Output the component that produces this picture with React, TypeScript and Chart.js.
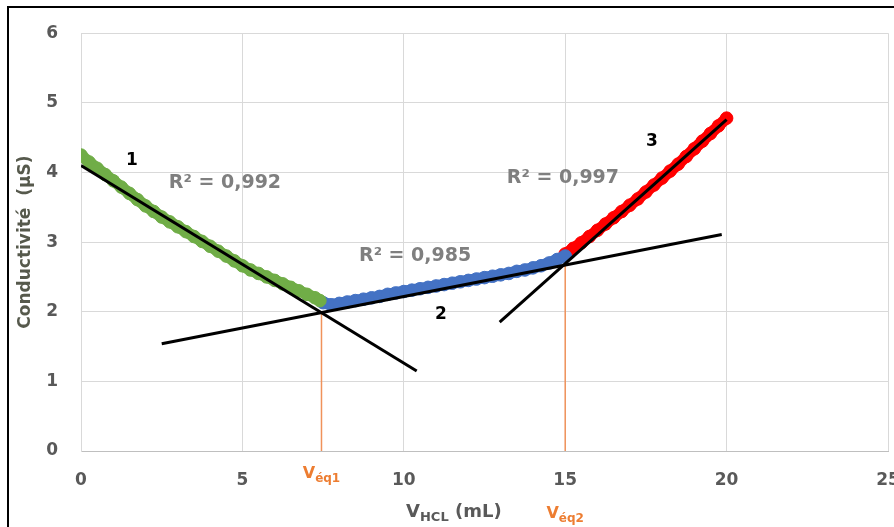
import React, { useEffect, useRef } from "react";
import { Chart, registerables } from "chart.js";

Chart.register(...registerables);

// ---- Data ----
const greenVolume = [0, 0.25, 0.5, 0.75, 1, 1.25, 1.5, 1.75, 2, 2.25, 2.5, 2.75, 3, 3.25, 3.5, 3.75, 4, 4.25, 4.5, 4.75, 5, 5.25, 5.5, 5.75, 6, 6.25, 6.5, 6.75, 7, 7.25, 7.4];
const greenConductivity = [4.25, 4.15, 4.06, 3.97, 3.88, 3.79, 3.7, 3.61, 3.52, 3.44, 3.36, 3.29, 3.22, 3.15, 3.08, 3.01, 2.94, 2.87, 2.8, 2.73, 2.66, 2.6, 2.55, 2.5, 2.45, 2.4, 2.35, 2.3, 2.25, 2.2, 2.16];

const blueVolume = [7.5, 7.75, 8, 8.25, 8.5, 8.75, 9, 9.25, 9.5, 9.75, 10, 10.25, 10.5, 10.75, 11, 11.25, 11.5, 11.75, 12, 12.25, 12.5, 12.75, 13, 13.25, 13.5, 13.75, 14, 14.25, 14.5, 14.75, 15];
const blueConductivity = [2.13, 2.1, 2.12, 2.14, 2.16, 2.18, 2.2, 2.22, 2.25, 2.27, 2.29, 2.31, 2.33, 2.35, 2.37, 2.39, 2.41, 2.43, 2.45, 2.47, 2.49, 2.51, 2.53, 2.55, 2.58, 2.6, 2.63, 2.66, 2.7, 2.75, 2.8];

const redVolume = [15, 15.25, 15.5, 15.75, 16, 16.25, 16.5, 16.75, 17, 17.25, 17.5, 17.75, 18, 18.25, 18.5, 18.75, 19, 19.25, 19.5, 19.75, 20];
const redConductivity = [2.83, 2.91, 2.99, 3.08, 3.17, 3.26, 3.35, 3.44, 3.53, 3.62, 3.72, 3.82, 3.92, 4.02, 4.12, 4.23, 4.34, 4.45, 4.56, 4.67, 4.78];

const fit1Volume = [0, 10.4];
const fit1Conductivity = [4.1, 1.15];
const fit2Volume = [2.5, 19.85];
const fit2Conductivity = [1.54, 3.11];
const fit3Volume = [12.97, 20];
const fit3Conductivity = [1.85, 4.76];

const equivalenceVolume = [7.45, 15.0];
const equivalenceConductivity = [1.99, 2.68];
const equivalenceSubscripts = ["éq1", "éq2"];

const r2Labels = ["R² = 0,992", "R² = 0,985", "R² = 0,997"];
const segmentLabels = ["1", "2", "3"];

const xTickStep = 5;
const yTickStep = 1;
const xMax = 25;
const yMax = 6;

// ---- Label placement (data coordinates) ----
const r2Anchors = [
  [4.46, 3.85],
  [10.35, 2.8],
  [14.93, 3.92],
];
const segmentAnchors = [
  [1.58, 4.17],
  [11.15, 1.96],
  [17.69, 4.45],
];

const FONT = "'DejaVu Sans', sans-serif";
const ORANGE = "#ED7D31";
const GRAY = "#595959";

const toPoints = (xs: number[], ys: number[]) => xs.map((x, i) => ({ x, y: ys[i] }));

function drawSubText(
  ctx: CanvasRenderingContext2D,
  cx: number,
  baseline: number,
  main: string,
  sub: string,
  rest: string,
  mainSize: number,
  subSize: number,
  color: string
) {
  ctx.save();
  ctx.fillStyle = color;
  ctx.textBaseline = "alphabetic";
  ctx.textAlign = "left";
  const mainFont = `bold ${mainSize}px ${FONT}`;
  const subFont = `bold ${subSize}px ${FONT}`;
  ctx.font = mainFont;
  const w1 = ctx.measureText(main).width;
  const w3 = rest ? ctx.measureText(rest).width : 0;
  ctx.font = subFont;
  const w2 = ctx.measureText(sub).width;
  let x = cx - (w1 + w2 + w3) / 2;
  ctx.font = mainFont;
  ctx.fillText(main, x, baseline);
  x += w1;
  ctx.font = subFont;
  ctx.fillText(sub, x, baseline + subSize * 0.3);
  x += w2;
  if (rest) {
    ctx.font = mainFont;
    ctx.fillText(rest, x, baseline);
  }
  ctx.restore();
}

const textPlugin = {
  id: "annotationTexts",
  afterDatasetsDraw(chart: any) {
    const { ctx, scales } = chart;
    const xs = scales.x;
    const ys = scales.y;
    ctx.save();
    ctx.textAlign = "center";
    ctx.textBaseline = "middle";
    ctx.font = `bold 19px ${FONT}`;
    ctx.fillStyle = "#7f7f7f";
    r2Labels.forEach((t, i) => {
      ctx.fillText(t, xs.getPixelForValue(r2Anchors[i][0]), ys.getPixelForValue(r2Anchors[i][1]));
    });
    ctx.font = `bold 17px ${FONT}`;
    ctx.fillStyle = "#000000";
    segmentLabels.forEach((t, i) => {
      ctx.fillText(t, xs.getPixelForValue(segmentAnchors[i][0]), ys.getPixelForValue(segmentAnchors[i][1]));
    });
    ctx.restore();
  },
  afterDraw(chart: any) {
    const { ctx, scales, chartArea } = chart;
    const xs = scales.x;
    equivalenceVolume.forEach((v, i) => {
      const baseline = chartArea.bottom + (i === 0 ? 27 : 67);
      drawSubText(ctx, xs.getPixelForValue(v), baseline, "V", equivalenceSubscripts[i], "", 16, 12, ORANGE);
    });
    drawSubText(ctx, xs.getPixelForValue(11.55), chartArea.bottom + 66, "V", "HCL", " (mL)", 18, 13, GRAY);
  },
};

export default function App() {
  const canvasRef = useRef<HTMLCanvasElement | null>(null);

  useEffect(() => {
    if (!canvasRef.current) return;
    const lineDs = (xs: number[], ys: number[], color: string, width: number, order: number) => ({
      data: toPoints(xs, ys),
      showLine: true,
      borderColor: color,
      backgroundColor: color,
      borderWidth: width,
      pointRadius: 0,
      pointHoverRadius: 0,
      order,
    });
    const pointDs = (xs: number[], ys: number[], color: string) => ({
      data: toPoints(xs, ys),
      showLine: true,
      backgroundColor: color,
      borderColor: color,
      borderWidth: 11.5,
      borderCapStyle: "round",
      borderJoinStyle: "round",
      pointBorderWidth: 1,
      pointRadius: 6.3,
      order: 3,
    });
    const chart = new Chart(canvasRef.current, {
      type: "scatter",
      data: {
        datasets: [
          lineDs(fit1Volume, fit1Conductivity, "#000000", 3, 0),
          lineDs(fit2Volume, fit2Conductivity, "#000000", 3, 0),
          lineDs(fit3Volume, fit3Conductivity, "#000000", 3, 0),
          lineDs([equivalenceVolume[0], equivalenceVolume[0]], [0, equivalenceConductivity[0]], "#F0925A", 1.5, 2),
          lineDs([equivalenceVolume[1], equivalenceVolume[1]], [0, equivalenceConductivity[1]], "#F0925A", 1.5, 2),
          pointDs(greenVolume, greenConductivity, "#70AD47"),
          pointDs(blueVolume, blueConductivity, "#4472C4"),
          pointDs(redVolume, redConductivity, "#FF0000"),
        ] as any,
      },
      options: {
        responsive: false,
        maintainAspectRatio: false,
        animation: false,
        events: [],
        layout: { padding: { left: 0, top: 25, right: 32, bottom: 0 } },
        plugins: {
          legend: { display: false },
          tooltip: { enabled: false },
          title: { display: false },
        },
        scales: {
          x: {
            type: "linear",
            min: 0,
            max: xMax,
            ticks: {
              stepSize: xTickStep,
              color: GRAY,
              font: { family: FONT, size: 17, weight: "bold" },
              padding: 19,
              maxRotation: 0,
            },
            grid: { color: "#d9d9d9", lineWidth: 1, drawTicks: false },
            border: { color: "#bfbfbf", width: 1 },
            afterFit: (s: any) => {
              s.height = 76;
              s.paddingLeft = 0;
              s.paddingRight = 0;
            },
          },
          y: {
            type: "linear",
            min: 0,
            max: yMax,
            ticks: {
              stepSize: yTickStep,
              color: GRAY,
              font: { family: FONT, size: 17, weight: "bold" },
              padding: 23,
            },
            grid: { color: "#d9d9d9", lineWidth: 1, drawTicks: false },
            border: { color: "#d9d9d9", width: 1 },
            title: {
              display: true,
              text: "Conductivité  (µS)",
              color: "#56594c",
              font: { family: FONT, size: 17, weight: "bold" },
              padding: { top: 15, bottom: 0 },
            },
            afterFit: (s: any) => {
              s.width = 81;
            },
          },
        },
      } as any,
      plugins: [textPlugin],
    });
    return () => chart.destroy();
  }, []);

  return (
    <div
      style={{
        position: "fixed",
        left: 0,
        top: 0,
        width: 894,
        height: 527,
        overflow: "hidden",
        background: "#ffffff",
      }}
    >
      <div
        style={{
          position: "absolute",
          left: 7,
          top: 6,
          width: 2000,
          height: 2000,
          border: "2px solid #000000",
          boxSizing: "border-box",
        }}
      />
      <canvas
        ref={canvasRef}
        width={920}
        height={527}
        style={{ position: "absolute", left: 0, top: 0, width: 920, height: 527 }}
      />
    </div>
  );
}
